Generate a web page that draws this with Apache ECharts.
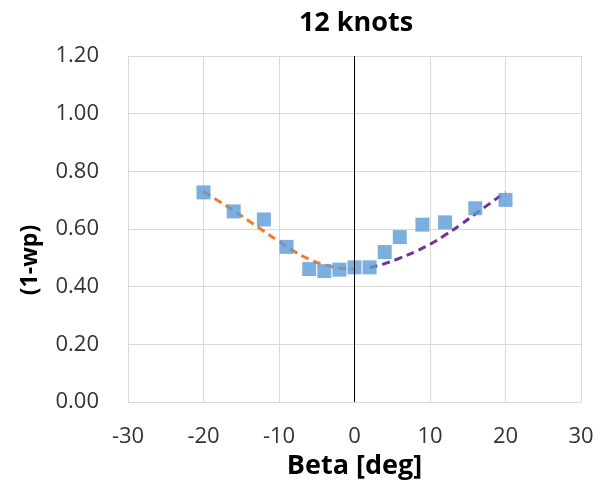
<!DOCTYPE html>
<html>
<head>
<meta charset="utf-8">
<script src="https://cdn.jsdelivr.net/npm/echarts@6/dist/echarts.min.js"></script>
<style>
html,body{margin:0;padding:0;background:#fff;}
#chart{width:603px;height:481px;}
</style>
</head>
<body>
<div id="chart"></div>
<script>
// Measured points (blue squares)
var betaPoints = [-20, -16, -12, -9, -6, -4, -2, 0, 2, 4, 6, 9, 12, 16, 20];
var wpPoints = [0.727, 0.661, 0.633, 0.538, 0.461, 0.454, 0.459, 0.467, 0.467, 0.520, 0.572, 0.615, 0.623, 0.672, 0.701];

// Orange dashed fit (negative beta)
var betaNeg = [-20, -18, -16, -14, -12, -10, -8, -6, -4, -2, 0];
var fitNeg = [0.730, 0.697, 0.664, 0.628, 0.592, 0.557, 0.523, 0.495, 0.476, 0.465, 0.461];

// Purple dashed fit (positive beta)
var betaPos = [2, 4, 6, 8, 10, 12, 14, 16, 18, 20];
var fitPos = [0.466, 0.480, 0.499, 0.521, 0.547, 0.579, 0.614, 0.652, 0.690, 0.728];

var chartTitle = '12 knots';
var xTitle = 'Beta [deg]';
var yTitle = '(1-wp)';

function zip(a, b) { return a.map(function (v, i) { return [v, b[i]]; }); }

var chart = echarts.init(document.getElementById('chart'));
var font = 'Open Sans';
chart.setOption({
  backgroundColor: '#ffffff',
  animation: false,
  title: {
    text: chartTitle,
    left: 351, top: 5, textAlign: 'center',
    textStyle: { fontFamily: font, fontSize: 27, fontWeight: 'bold', color: '#000' }
  },
  graphic: [{
    type: 'text',
    x: 30, y: 260,
    rotation: Math.PI / 2,
    style: {
      text: yTitle, fontFamily: font, fontSize: 23, fontWeight: 'bold', fill: '#000',
      align: 'center', verticalAlign: 'middle'
    }
  }],
  grid: { left: 128, right: 22, top: 56, bottom: 79, containLabel: false, outerBoundsMode: 'none' },
  xAxis: {
    type: 'value', min: -30, max: 30, interval: 10,
    name: xTitle, nameLocation: 'middle', nameGap: 48,
    nameTextStyle: { fontFamily: font, fontSize: 27, fontWeight: 'bold', color: '#000' },
    axisLine: { show: false }, axisTick: { show: false },
    axisLabel: { fontFamily: font, fontSize: 22, color: '#333', margin: 24 },
    splitLine: { show: true, lineStyle: { color: '#d9d9d9', width: 1 } }
  },
  yAxis: {
    type: 'value', min: 0, max: 1.2, interval: 0.2,
    axisLine: { show: false }, axisTick: { show: false },
    axisLabel: { fontFamily: font, fontSize: 22, color: '#333', margin: 29,
      formatter: function (v) { return v.toFixed(2); } },
    splitLine: { show: true, lineStyle: { color: '#d9d9d9', width: 1 } }
  },
  series: [
    {
      type: 'line', data: zip(betaNeg, fitNeg), smooth: true, symbol: 'none',
      lineStyle: { color: '#ED7D31', width: 3, type: [8, 5] }, z: 3
    },
    {
      type: 'line', data: zip(betaPos, fitPos), smooth: true, symbol: 'none',
      lineStyle: { color: '#7030A0', width: 3, type: [8, 5] }, z: 3
    },
    {
      type: 'scatter', data: zip(betaPoints, wpPoints), symbol: 'rect', symbolSize: 14,
      itemStyle: { color: '#5B9BD5' }, z: 4,
      markLine: {
        silent: true, symbol: 'none', label: { show: false },
        lineStyle: { color: '#000', width: 1, type: 'solid' },
        data: [{ xAxis: 0 }]
      }
    }
  ]
});
</script>
</body>
</html>
